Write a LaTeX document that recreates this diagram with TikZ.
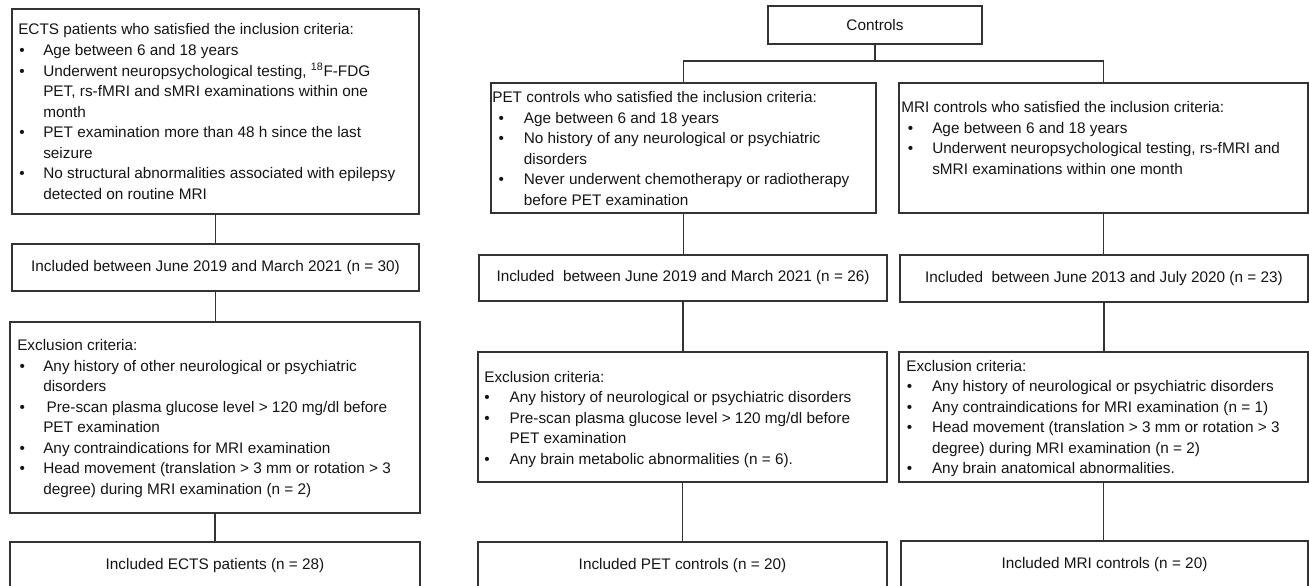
\documentclass[tikz,border=0pt]{standalone}
\usepackage{fontspec}
\setmainfont{Liberation Sans}
\newlength\bulsk
\newlength\txsk
\newcommand\bitem[1]{\par\hangindent=\txsk\hangafter=1\noindent\makebox[\txsk][l]{\hspace{\bulsk}\textbullet}#1}
\newcommand\crit[4]{\parbox[t]{420pt}{\setlength\bulsk{#1pt}\setlength\txsk{#2pt}\noindent #3#4}}
\newcommand\boxat[6]{\node[box, minimum width={(#4-#2)*0.75pt}, minimum height={(#5-#3)*0.75pt}] (#1) at ({(#2+#4)/2},{(#3+#5)/2}) {#6};}
\tikzset{
  every node/.style={font=\fontsize{11.5pt}{15.4pt}\selectfont, text=black!92},
  box/.style={draw=black!80, line width=0.9pt, inner sep=0pt, align=center},
  txt/.style={anchor=base west, inner sep=0pt},
  conn/.style={draw=black!80, line width=0.9pt}
}
\begin{document}
\begin{tikzpicture}[x=0.75pt,y=-0.75pt]
\useasboundingbox (0,0) rectangle (1309,585);
\clip (0,0) rectangle (1309,585);
% left column
\boxat{A}{12}{9}{419}{214}{}
\boxat{B}{12}{244}{419}{291}{Included between June 2019 and March 2021 (n = 30)}
\boxat{C}{10}{322}{420}{513}{}
\boxat{D}{10}{542}{420}{589}{Included ECTS patients (n = 28)}
% controls
\boxat{ctrl}{768}{6}{982}{44}{Controls}
\boxat{P1}{491}{83}{876}{213}{}
\boxat{P2}{479}{255}{887}{301}{Included~ between June 2019 and March 2021 (n = 26)}
\boxat{P3}{478}{352}{887}{482}{}
\boxat{P4}{478}{542}{887}{589}{Included PET controls (n = 20)}
\boxat{M1}{899}{83}{1308}{213}{}
\boxat{M2}{900}{255}{1308}{302}{Included~ between June 2013 and July 2020 (n = 23)}
\boxat{M3}{899}{352}{1308}{482}{}
\boxat{M4}{901}{541}{1308}{588}{Included MRI controls (n = 20)}
% texts
\node[txt] (A-t) at (18,35) {\crit{0.75}{18.75}{ECTS patients who satisfied the inclusion criteria:}{%
\bitem{Age between 6 and 18 years}%
\bitem{Underwent neuropsychological testing, \textsuperscript{18}F-FDG\newline PET, rs-fMRI and sMRI examinations within one\newline month}%
\bitem{PET examination more than 48 h since the last\newline seizure}%
\bitem{No structural abnormalities associated with epilepsy\newline detected on routine MRI}}};
\node[txt] (C-t) at (17,350.5) {\crit{1.7}{19.5}{Exclusion criteria:}{%
\bitem{Any history of other neurological or psychiatric\newline disorders}%
\bitem{\hspace{2.5pt}Pre-scan plasma glucose level > 120 mg/dl before\newline PET examination}%
\bitem{Any contraindications for MRI examination}%
\bitem{Head movement (translation > 3 mm or rotation > 3\newline degree) during MRI examination (n = 2)}}};
\node[txt] (P1-t) at (492,102.5) {\crit{4.7}{23.7}{PET controls who satisfied the inclusion criteria:}{%
\bitem{Age between 6 and 18 years}%
\bitem{No history of any neurological or psychiatric\newline disorders}%
\bitem{Never underwent chemotherapy or radiotherapy\newline before PET examination}}};
\node[txt] (P3-t) at (484,382) {\crit{0}{19}{Exclusion criteria:}{%
\bitem{Any history of neurological or psychiatric disorders}%
\bitem{Pre-scan plasma glucose level > 120 mg/dl before\newline PET examination}%
\bitem{Any brain metabolic abnormalities (n = 6).}}};
\node[txt] (M1-t) at (901,112.5) {\crit{5}{23.25}{MRI controls who satisfied the inclusion criteria:}{%
\bitem{Age between 6 and 18 years}%
\bitem{Underwent neuropsychological testing, rs-fMRI and\newline sMRI examinations within one month}}};
\node[txt] (M3-t) at (906,371) {\crit{0.5}{19.3}{Exclusion criteria:}{%
\bitem{Any history of neurological or psychiatric disorders}%
\bitem{Any contraindications for MRI examination (n = 1)}%
\bitem{Head movement (translation > 3 mm or rotation > 3\newline degree) during MRI examination (n = 2)}%
\bitem{Any brain anatomical abnormalities.}}};
% connectors
\draw[conn] (A.south) -- (A.south |- B.north);
\draw[conn] (B.south) -- (B.south |- C.north);
\draw[conn] (C.south) -- (C.south |- D.north);
\coordinate (split) at (ctrl.south |- 0,61);
\draw[conn] (ctrl.south) -- (split);
\draw[conn] (split) -| (P1.north);
\draw[conn] (split) -| (M1.north);
\draw[conn] (P1.south) -- (P1.south |- P2.north);
\draw[conn] (P2.south) -- (P2.south |- P3.north);
\draw[conn] (P3.south) -- (P3.south |- P4.north);
\draw[conn] (M1.south) -- (M1.south |- M2.north);
\draw[conn] (M2.south) -- (M2.south |- M3.north);
\draw[conn] (M3.south) -- (M3.south |- M4.north);
\end{tikzpicture}
\end{document}
